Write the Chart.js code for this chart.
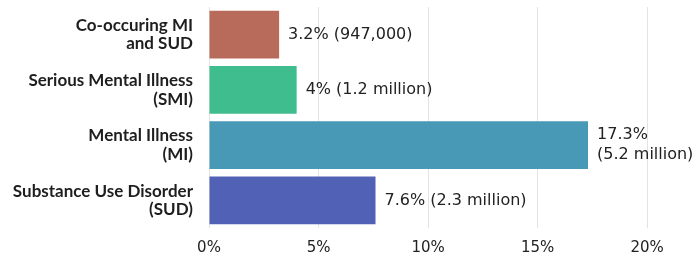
<!DOCTYPE html>
<html>
<head>
<meta charset="utf-8">
<script src="https://cdn.jsdelivr.net/npm/chart.js@4/dist/chart.umd.min.js"></script>
<style>
  html, body { margin: 0; padding: 0; background: #fff; }
  #wrap { width: 696px; height: 257px; position: relative; }
</style>
</head>
<body>
<div id="wrap"><canvas id="plot"></canvas></div>
<script>
var categories = [
    ['Co-occuring MI', 'and SUD'],
    ['Serious Mental Illness', '(SMI)'],
    ['Mental Illness', '(MI)'],
    ['Substance Use Disorder', '(SUD)']
];
var percents = [3.2, 4, 17.3, 7.6];
var valueLabels = [
    ['3.2% (947,000)'],
    ['4% (1.2 million)'],
    ['17.3%', '(5.2 million)'],
    ['7.6% (2.3 million)']
];
var barColors = ['#b86b5a', '#3fbd8e', '#4799b6', '#5061b6'];
var tickValues = [0, 5, 10, 15, 20];

var labelFont = 'Lato, "Open Sans", sans-serif';
var numberFont = '"DejaVu Sans", sans-serif';

// draws the text to the right of each bar
var valueText = {
    id: 'valueText',
    afterDatasetsDraw: function (chart) {
        var ctx = chart.ctx;
        var meta = chart.getDatasetMeta(0);
        ctx.save();
        ctx.fillStyle = '#222';
        ctx.font = '16px ' + numberFont;
        ctx.textAlign = 'left';
        ctx.textBaseline = 'middle';
        meta.data.forEach(function (bar, i) {
            var lines = valueLabels[i];
            var lh = 20;
            var y0 = bar.y - (lines.length - 1) * lh / 2;
            lines.forEach(function (t, j) {
                ctx.fillText(t, bar.x + 9, y0 + j * lh);
            });
        });
        ctx.restore();
    }
};

new Chart(document.getElementById('plot'), {
    type: 'bar',
    data: {
        labels: categories,
        datasets: [{
            data: percents,
            backgroundColor: barColors,
            borderWidth: 0,
            barPercentage: 0.86,
            categoryPercentage: 1
        }]
    },
    options: {
        indexAxis: 'y',
        responsive: true,
        maintainAspectRatio: false,
        animation: false,
        layout: { padding: { top: 7, right: 5, bottom: 1, left: 0 } },
        plugins: {
            legend: { display: false },
            tooltip: { enabled: false }
        },
        scales: {
            x: {
                min: 0,
                max: 22,
                afterBuildTicks: function (scale) {
                    scale.ticks = tickValues.map(function (v) { return { value: v }; });
                },
                afterFit: function (scale) { scale.height = 28; },
                grid: { color: '#e3e3e3', drawTicks: false },
                border: { display: false },
                ticks: {
                    padding: 11,
                    color: '#222',
                    font: { family: numberFont, size: 15 },
                    callback: function (v) { return v + '%'; }
                }
            },
            y: {
                afterFit: function (scale) {
                    scale.width = 209;
                    scale.paddingTop = 0;
                    scale.paddingBottom = 0;
                },
                grid: { display: false },
                border: { display: false },
                ticks: {
                    padding: 8,
                    color: '#1e1e1e',
                    font: { family: labelFont, size: 17, weight: 'bold', lineHeight: 1.1 }
                }
            }
        }
    },
    plugins: [valueText]
});
</script>
</body>
</html>
